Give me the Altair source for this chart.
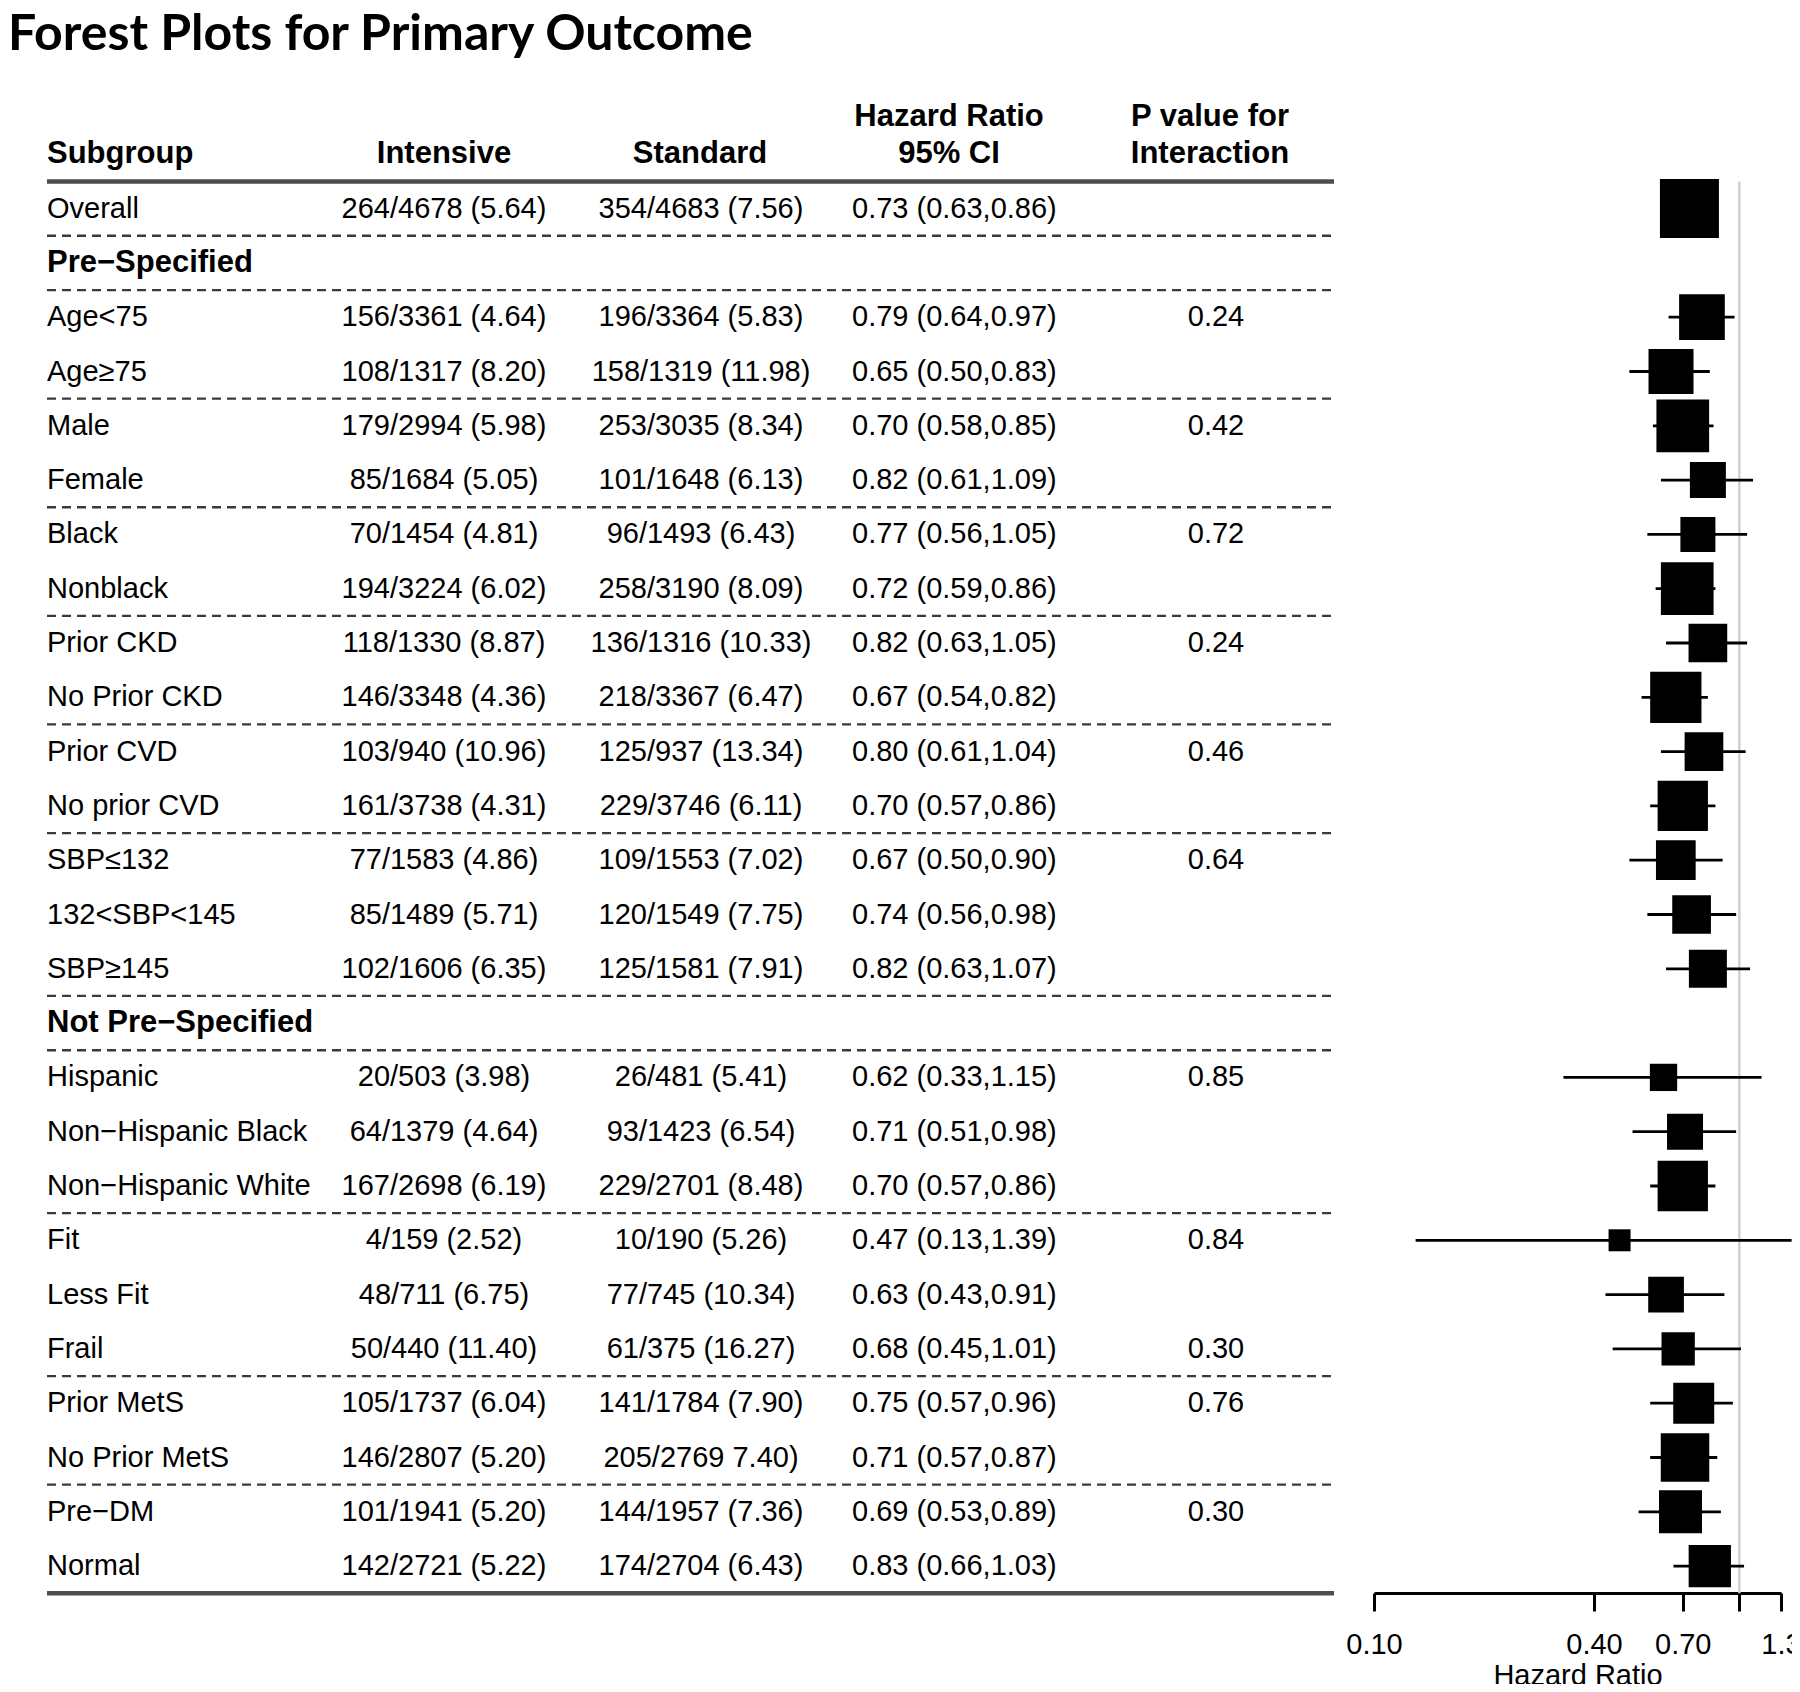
import altair as alt
import pandas as pd

# ---------------- data ----------------
title_text = "Forest Plots for Primary Outcome"

subgroups = [
    "Overall", "Pre−Specified", "Age<75", "Age≥75", "Male", "Female", "Black", "Nonblack",
    "Prior CKD", "No Prior CKD", "Prior CVD", "No prior CVD", "SBP≤132", "132<SBP<145",
    "SBP≥145", "Not Pre−Specified", "Hispanic", "Non−Hispanic Black", "Non−Hispanic White",
    "Fit", "Less Fit", "Frail", "Prior MetS", "No Prior MetS", "Pre−DM", "Normal",
]
is_heading = [s in ("Pre−Specified", "Not Pre−Specified") for s in subgroups]

intensive = [
    "264/4678 (5.64)", "", "156/3361 (4.64)", "108/1317 (8.20)", "179/2994 (5.98)",
    "85/1684 (5.05)", "70/1454 (4.81)", "194/3224 (6.02)", "118/1330 (8.87)",
    "146/3348 (4.36)", "103/940 (10.96)", "161/3738 (4.31)", "77/1583 (4.86)",
    "85/1489 (5.71)", "102/1606 (6.35)", "", "20/503 (3.98)", "64/1379 (4.64)",
    "167/2698 (6.19)", "4/159 (2.52)", "48/711 (6.75)", "50/440 (11.40)",
    "105/1737 (6.04)", "146/2807 (5.20)", "101/1941 (5.20)", "142/2721 (5.22)",
]
standard = [
    "354/4683 (7.56)", "", "196/3364 (5.83)", "158/1319 (11.98)", "253/3035 (8.34)",
    "101/1648 (6.13)", "96/1493 (6.43)", "258/3190 (8.09)", "136/1316 (10.33)",
    "218/3367 (6.47)", "125/937 (13.34)", "229/3746 (6.11)", "109/1553 (7.02)",
    "120/1549 (7.75)", "125/1581 (7.91)", "", "26/481 (5.41)", "93/1423 (6.54)",
    "229/2701 (8.48)", "10/190 (5.26)", "77/745 (10.34)", "61/375 (16.27)",
    "141/1784 (7.90)", "205/2769 7.40)", "144/1957 (7.36)", "174/2704 (6.43)",
]
hr = [0.73, None, 0.79, 0.65, 0.70, 0.82, 0.77, 0.72, 0.82, 0.67, 0.80, 0.70, 0.67, 0.74,
      0.82, None, 0.62, 0.71, 0.70, 0.47, 0.63, 0.68, 0.75, 0.71, 0.69, 0.83]
ci_low = [0.63, None, 0.64, 0.50, 0.58, 0.61, 0.56, 0.59, 0.63, 0.54, 0.61, 0.57, 0.50, 0.56,
          0.63, None, 0.33, 0.51, 0.57, 0.13, 0.43, 0.45, 0.57, 0.57, 0.53, 0.66]
ci_high = [0.86, None, 0.97, 0.83, 0.85, 1.09, 1.05, 0.86, 1.05, 0.82, 1.04, 0.86, 0.90, 0.98,
           1.07, None, 1.15, 0.98, 0.86, 1.39, 0.91, 1.01, 0.96, 0.87, 0.89, 1.03]
p_interaction = ["", "", "0.24", "", "0.42", "", "0.72", "", "0.24", "", "0.46", "", "0.64", "",
                 "", "", "0.85", "", "", "0.84", "", "0.30", "0.76", "", "0.30", ""]
# relative box weight (box side)
box_weight = [59, None, 45.7, 45, 52.7, 36, 35, 52.7, 38.7, 51.3, 38.7, 50.3, 39.7, 38.7,
              38, None, 27.3, 36, 50.3, 22, 35.7, 33.3, 41, 48.5, 43, 42.3]

group_breaks = [0.5, 1.5, 3.5, 5.5, 7.5, 9.5, 11.5, 14.5, 15.5, 18.5, 21.5, 23.5]
tick_values = [0.1, 0.4, 0.7, 1.0, 1.3]
tick_labels = ["0.10", "0.40", "0.70", "", "1.3"]

# ---------------- tables ----------------
rows = list(range(len(subgroups)))
df = pd.DataFrame({
    "row": rows, "subgroup": subgroups, "heading": is_heading,
    "intensive": intensive, "standard": standard,
    "hr": hr, "lo": ci_low, "hi": ci_high, "p": p_interaction, "box": box_weight,
})
df["hrtext"] = [
    f"{h:.2f} ({l:.2f},{u:.2f})" if h is not None and h == h else ""
    for h, l, u in zip(hr, ci_low, ci_high)
]
forest = df[df["hr"].notna()].copy()

n_last = len(subgroups) - 1
header_line = pd.DataFrame({"row": [-0.5]})
bottom_line = pd.DataFrame({"row": [n_last + 0.5]})
dash_df = pd.DataFrame({"row": group_breaks})
ref_df = pd.DataFrame({"one": [1.0], "top": [-0.5], "bot": [n_last + 0.5]})

FONT = "Liberation Sans"
W, H = 1784, 1585

yscale = alt.Scale(domain=[0, n_last], range=[200.6, 1558.1], nice=False, zero=False)
xscale = alt.Scale(type="log", domain=[0.1, 1.3], range=[1366, 1773], nice=False)

labels_js = "[" + ",".join(f"'{t}'" for t in tick_labels) + "]"
values_js = "[" + ",".join(str(v) for v in tick_values) + "]"
xaxis = alt.Axis(
    values=tick_values,
    labelExpr=f"{labels_js}[indexof({values_js}, datum.value)]",
    tickSize=18, tickWidth=3, tickColor="black",
    domainColor="black", domainWidth=3,
    labelFont=FONT, labelFontSize=29, labelColor="black", labelPadding=19,
    labelOverlap=False, labelFlush=False,
    title="Hazard Ratio", titleFont=FONT, titleFontSize=29, titleFontWeight="normal",
    titleColor="black", titlePadding=2, grid=False,
)


def Y(field="row"):
    return alt.Y(f"{field}:Q", scale=yscale, axis=None)


def text_layer(data, field, x, align="center", bold=False, size=29):
    return alt.Chart(data).mark_text(
        font=FONT, fontSize=size, fontWeight="bold" if bold else "normal",
        align=align, baseline="middle", color="black",
    ).encode(x=alt.value(x), y=Y(), text=f"{field}:N")


# headers
def header(txt, row, x, align="center"):
    d = pd.DataFrame({"row": [row], "t": [txt]})
    return text_layer(d, "t", x, align=align, bold=True, size=31)


headers = [
    header("Subgroup", -1.0, 39, "left"),
    header("Intensive", -1.0, 436),
    header("Standard", -1.0, 692),
    header("Hazard Ratio", -1.69, 941),
    header("95% CI", -1.0, 941),
    header("P value for", -1.69, 1202),
    header("Interaction", -1.0, 1202),
]

title = alt.Chart(pd.DataFrame({"t": [title_text]})).mark_text(
    font="Lato", fontSize=50, fontWeight="bold", align="left", baseline="alphabetic", color="black"
).encode(x=alt.value(0), y=alt.value(42), text="t:N")

normal_rows = df[~df["heading"]]
head_rows = df[df["heading"]]

col_texts = [
    text_layer(normal_rows, "subgroup", 39, "left"),
    text_layer(head_rows, "subgroup", 39, "left", bold=True, size=31),
    text_layer(df, "intensive", 436),
    text_layer(df, "standard", 693),
    text_layer(df, "hrtext", 844, "left"),
    text_layer(df, "p", 1208),
]

thick = [
    alt.Chart(d).mark_rule(color="#4d4d4d", strokeWidth=4.5).encode(
        x=alt.value(39), x2=alt.value(1326), y=Y())
    for d in (header_line, bottom_line)
]
dashes = alt.Chart(dash_df).mark_rule(color="#3a3a3a", strokeWidth=2.3, strokeDash=[9, 6]).encode(
    x=alt.value(39), x2=alt.value(1326), y=Y())

ref_line = alt.Chart(ref_df).mark_rule(color="#d0d0d0", strokeWidth=2.5).encode(
    x=alt.X("one:Q", scale=xscale, axis=xaxis), y=Y("top"), y2="bot:Q")

ci = alt.Chart(forest).mark_rule(color="black", strokeWidth=2.8).encode(
    x=alt.X("lo:Q", scale=xscale, axis=xaxis), x2="hi:Q", y=Y())

boxes = alt.Chart(forest).mark_square(filled=True, color="black", opacity=1).encode(
    x=alt.X("hr:Q", scale=xscale, axis=xaxis),
    y=Y(),
    size=alt.Size("box:Q", scale=alt.Scale(type="pow", exponent=2, domain=[0, 60], range=[0, 3600]),
                  legend=None),
)

chart = alt.layer(
    title, *headers, *thick, dashes, *col_texts, ref_line, ci, boxes
).properties(
    width=W, height=H,
    background="white",
    autosize=alt.AutoSizeParams(type="none"),
    padding={"left": 0, "right": 0, "top": 0, "bottom": 91},
).configure_view(stroke=None, strokeWidth=0)

chart.save("out.html", embed_options={"renderer": "svg", "actions": False})
